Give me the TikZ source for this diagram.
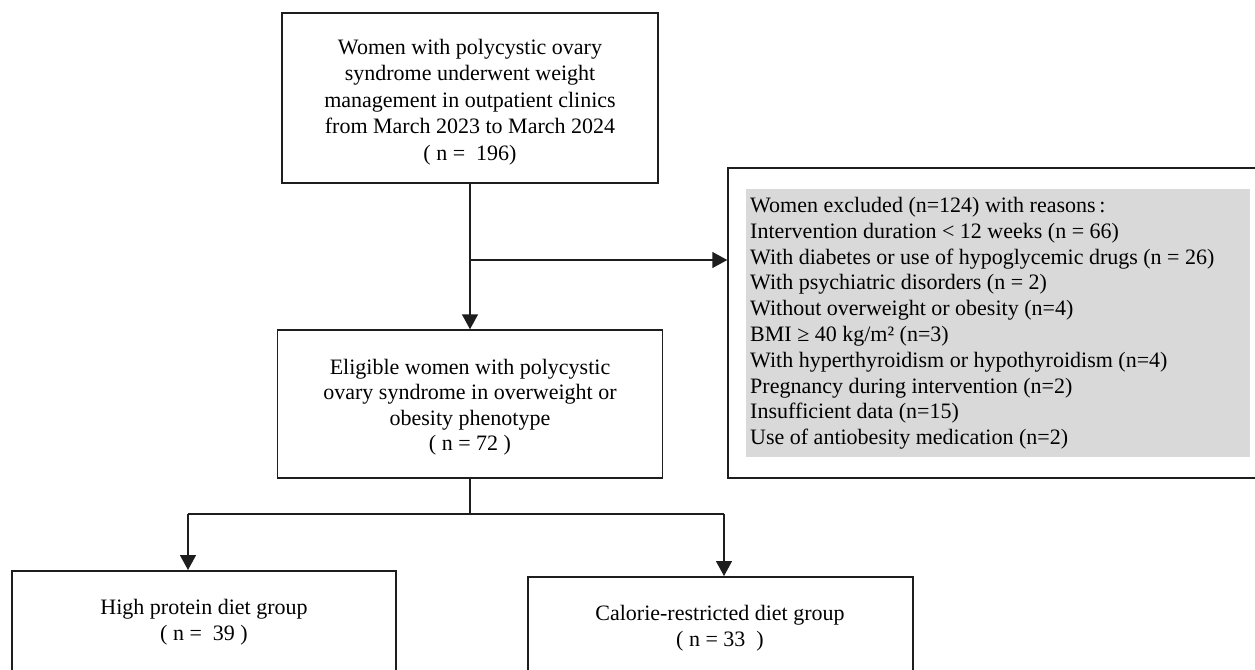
\documentclass[tikz,border=0pt]{standalone}
\usepackage{fontspec}
\setmainfont{Liberation Serif}
\usetikzlibrary{arrows.meta}
\definecolor{lineC}{HTML}{1E1E1E}
\definecolor{greyC}{HTML}{D9D9D9}
\begin{document}
\begin{tikzpicture}[x=1pt,y=-1pt,
  box/.style={draw=lineC, line width=1.5pt, fill=white, inner sep=0pt},
  txt/.style={align=center, font=\fontsize{22}{26.5}\selectfont, inner sep=0pt},
  arr/.style={draw=lineC, line width=1.5pt, -{Triangle[length=15pt,width=16pt]}},
  ln/.style={draw=lineC, line width=1.5pt}]
\useasboundingbox[fill=white] (0,0) rectangle (1255,669);
% top box
\node[box, minimum width=376pt, minimum height=170pt] (top) at (470,98) {};
\node[txt] (topT) at (470,102) {Women with polycystic ovary\\syndrome underwent weight\\management in outpatient clinics\\from March 2023 to March 2024\\( n =\ \ 196)};
% middle box
\node[box, minimum width=385pt, minimum height=148pt] (mid) at (470,404) {};
\node[txt, font=\fontsize{22}{25.5}\selectfont] (midT) at (470,407) {Eligible women with polycystic\\ovary syndrome in overweight or\\obesity phenotype\\( n = 72 )};
% exclusion box
\node[box, minimum width=534pt, minimum height=310pt] (excl) at (995,323) {};
\node[fill=greyC, minimum width=504pt, minimum height=268pt, inner sep=0pt] (grey) at (998,323) {};
\node[anchor=north west, align=left, font=\fontsize{22}{25.8}\selectfont, inner sep=0pt] (exT) at (750,197) {Women excluded (n=124) with reasons\,:\\
Intervention duration < 12 weeks (n = 66)\\
With diabetes or use of hypoglycemic drugs (n = 26)\\
With psychiatric disorders (n = 2)\\
Without overweight or obesity (n=4)\\
BMI ≥ 40 kg/m² (n=3)\\
With hyperthyroidism or hypothyroidism (n=4)\\
Pregnancy during intervention (n=2)\\
Insufficient data (n=15)\\
Use of antiobesity medication (n=2)};
% bottom boxes
\node[box, anchor=north, minimum width=384pt, minimum height=150pt] (hp) at (204,570) {};
\node[txt] (hpT) at (204,622) {High protein diet group\\( n =\ \ 39 )};
\node[box, anchor=north, minimum width=385pt, minimum height=150pt] (cr) at (720.5,576) {};
\node[txt] (crT) at (720,628) {Calorie-restricted diet group\\( n = 33\ \ )};
% connectors
\coordinate (j1) at (470,260);
\coordinate (j2) at (470,514);
\coordinate (bl) at (188,514);
\coordinate (br) at (724,514);
\draw[arr] (top.south) -- (mid.north);
\draw[arr] (j1) -- (j1 -| excl.west);
\draw[ln] (mid.south) -- (j2);
\draw[ln] (bl) -- (br);
\draw[arr] (bl) -- (bl |- hp.north);
\draw[arr] (br) -- (br |- cr.north);
\end{tikzpicture}
\end{document}
